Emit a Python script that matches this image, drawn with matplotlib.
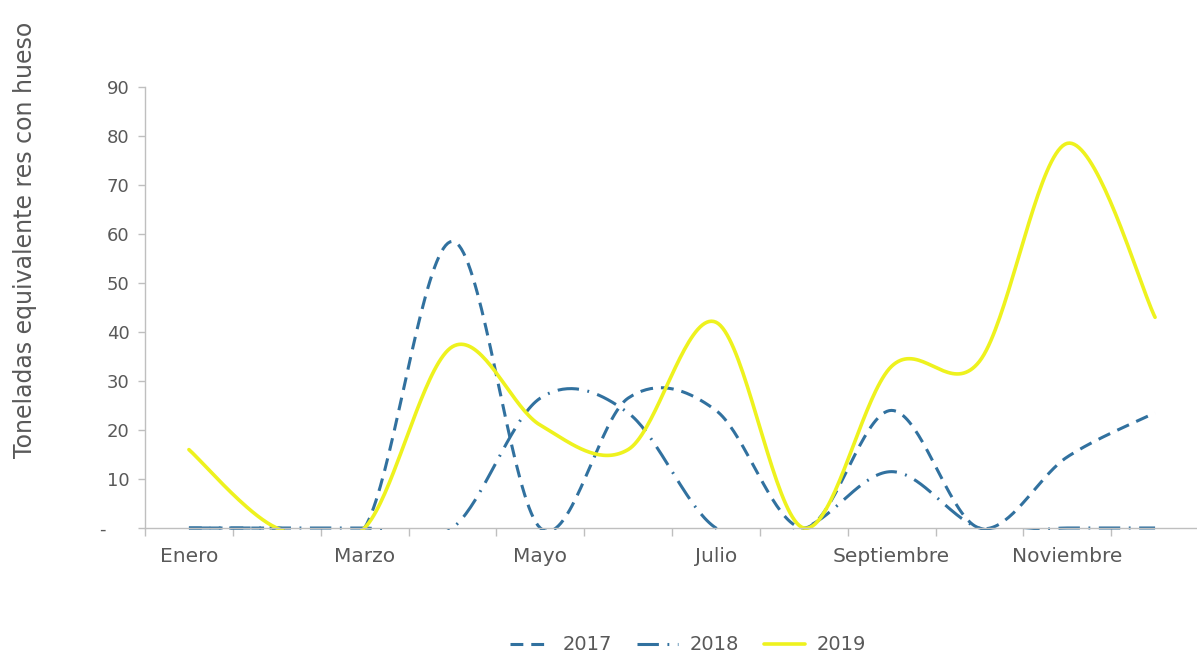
import numpy as np
import matplotlib
matplotlib.use("Agg")
import matplotlib.pyplot as plt
from matplotlib.patches import Rectangle

months = ["Enero", "Febrero", "Marzo", "Abril", "Mayo", "Junio", "Julio",
          "Agosto", "Septiembre", "Octubre", "Noviembre", "Diciembre"]
y2017 = [0, 0, 0, 58.5, 0, 26.5, 24, 0, 24, 0, 14.5, 23.5]
y2018 = [0, 0, 0, 0, 26.5, 23.5, 0, 0, 11.5, 0, 0, 0]
y2019 = [16, 0, 0, 37, 21, 16, 42, 0, 33, 34, 78.5, 43]
yticks = [0, 10, 20, 30, 40, 50, 60, 70, 80, 90]
ylabel = "Toneladas equivalente res con hueso"

GRAY = "#595959"
AXC = "#BFBFBF"
BLUE = "#31719F"
YEL = "#EEF21E"


def smooth(vals, n=40):
    """Excel-like smooth line (cardinal Bezier through each point)."""
    p = np.asarray(vals, dtype=float)
    x = np.arange(len(p), dtype=float)
    pts = np.column_stack([x, p])
    ext = np.vstack([pts[0], pts, pts[-1]])
    out = []
    t = np.linspace(0, 1, n)[:, None]
    for i in range(len(pts) - 1):
        p0, p1, p2, p3 = ext[i], ext[i + 1], ext[i + 2], ext[i + 3]
        c1 = p1 + (p2 - p0) / 6.0
        c2 = p2 - (p3 - p1) / 6.0
        seg = ((1 - t) ** 3) * p1 + 3 * ((1 - t) ** 2) * t * c1 + 3 * (1 - t) * t ** 2 * c2 + t ** 3 * p2
        out.append(seg if i == 0 else seg[1:])
    a = np.vstack(out)
    return a[:, 0], a[:, 1]


W, H = 1197, 659
fig = plt.figure(figsize=(W / 100, H / 100), dpi=100)
left, right, bottom, top = 145 / W, 1199 / W, 1 - 528 / H, 1 - 87 / H
ax = fig.add_axes([left, bottom, right - left, top - bottom])

clip = Rectangle((0, -0.004), 1, 1.05, transform=ax.transAxes, facecolor="none", edgecolor="none")
ax.add_patch(clip)

series = [
    ("2017", y2017, dict(color=BLUE, lw=2.2, linestyle=(0, (4.2, 2.6)))),
    ("2018", y2018, dict(color=BLUE, lw=2.2, linestyle=(0, (7, 2.8, 0.6, 2.8)))),
    ("2019", y2019, dict(color=YEL, lw=2.6, linestyle="-")),
]
handles = []
for name, vals, st in series:
    xs, ys = smooth(vals)
    ln, = ax.plot(xs, ys, label=name, solid_capstyle="round", dash_capstyle="butt", **st)
    ln.set_clip_path(clip)
    handles.append(ln)

ax.set_xlim(-0.5, len(months) - 0.5)
ax.set_ylim(0, 90)

for s in ["top", "right"]:
    ax.spines[s].set_visible(False)
for s in ["left", "bottom"]:
    ax.spines[s].set_color(AXC)
    ax.spines[s].set_linewidth(1.0)

ax.set_yticks(yticks)
ax.set_yticklabels(["-    " if v == 0 else str(v) for v in yticks])
ax.tick_params(axis="y", colors=AXC, labelcolor=GRAY, length=5, width=1, pad=6, labelsize=13)

ax.set_xticks(np.arange(len(months) + 1) - 0.5)
ax.set_xticklabels([])
ax.tick_params(axis="x", which="major", colors=AXC, length=6, width=1)
ax.set_xticks(np.arange(0, len(months), 2), minor=True)
ax.set_xticklabels([months[i] for i in range(0, len(months), 2)], minor=True)
ax.tick_params(axis="x", which="minor", length=0, labelcolor=GRAY, labelsize=14.5, pad=14)

fig.text(25 / W, 1 - 240 / H, ylabel, rotation=90, ha="center", va="center",
         color=GRAY, fontsize=17)

fig.legend(handles=handles, loc="center", bbox_to_anchor=(688 / W, 1 - 645 / H), ncol=3,
           frameon=False, fontsize=14, labelcolor=GRAY, handlelength=2.1,
           handletextpad=0.6, columnspacing=1.3)

fig.savefig("out.png", dpi=100, facecolor="white")
